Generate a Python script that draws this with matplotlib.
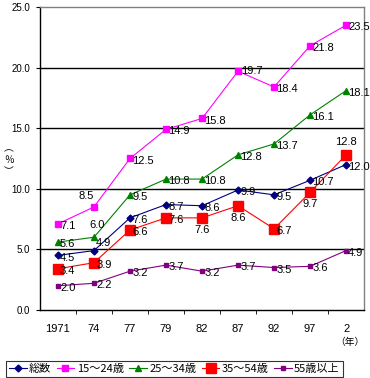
import matplotlib
matplotlib.use("Agg")
import matplotlib.pyplot as plt
from matplotlib.ticker import FixedLocator

plt.rcParams['font.family'] = ['Noto Sans CJK JP', 'DejaVu Sans']

years = ["1971", "74", "77", "79", "82", "87", "92", "97", "2"]
total = [4.5, 4.9, 7.6, 8.7, 8.6, 9.9, 9.5, 10.7, 12.0]
age15_24 = [7.1, 8.5, 12.5, 14.9, 15.8, 19.7, 18.4, 21.8, 23.5]
age25_34 = [5.6, 6.0, 9.5, 10.8, 10.8, 12.8, 13.7, 16.1, 18.1]
age35_54 = [3.4, 3.9, 6.6, 7.6, 7.6, 8.6, 6.7, 9.7, 12.8]
age55 = [2.0, 2.2, 3.2, 3.7, 3.2, 3.7, 3.5, 3.6, 4.9]
names = ["総数", "15～24歳", "25～34歳", "35～54歳", "55歳以上"]
yticks = [0.0, 5.0, 10.0, 15.0, 20.0, 25.0]

NUMFONT = ['Liberation Sans', 'DejaVu Sans']

fig = plt.figure(figsize=(3.7, 3.78), dpi=100)
ax = fig.add_axes([0.108, 0.180, 0.876, 0.8015])
x = list(range(len(years)))

series = [
    (total, '#000080', 'D', 3.5),
    (age15_24, '#FF00FF', 's', 4),
    (age25_34, '#008000', '^', 4.5),
    (age35_54, '#FF0000', 's', 7),
    (age55, '#800080', 's', 2.5),
]

# label placement overrides: (series index, point index) -> (dx, dy, ha, va)
overrides = {
    (1, 1): (0, 4, 'right', 'bottom'),
    (2, 1): (2, 5, 'center', 'bottom'),
    (0, 1): (1, 2, 'left', 'bottom'),
    (3, 4): (0, -5, 'center', 'top'),
    (3, 5): (0, -5, 'center', 'top'),
    (3, 7): (0, -5, 'center', 'top'),
    (3, 8): (0, 6, 'center', 'bottom'),
    (1, 5): (2, 0, 'left', 'center'),
}

handles = []
for si, (vals, col, mk, ms) in enumerate(series):
    h, = ax.plot(x, vals, color=col, marker=mk, markersize=ms, linewidth=0.8,
                 markeredgecolor=col, markerfacecolor=col, label=names[si], zorder=3)
    handles.append(h)
    for pi, v in enumerate(vals):
        dx, dy, ha, va = overrides.get((si, pi), (1.5, -1.5, 'left', 'center'))
        ax.annotate(f"{v:.1f}", (pi, v), xytext=(dx, dy), textcoords='offset points',
                    ha=ha, va=va, fontsize=8, color='black', zorder=4,
                    family=NUMFONT, annotation_clip=False)

ax.set_xlim(-0.5, len(years) - 0.5)
ax.set_ylim(0, 25)
ax.set_yticks(yticks)
ax.set_yticklabels([f"{t:.1f}" for t in yticks], fontsize=7, family=NUMFONT)
ax.set_xticks(x)
ax.set_xticklabels(years, fontsize=8, family=NUMFONT)
ax.tick_params(axis='x', which='major', length=0, pad=10)
ax.xaxis.set_minor_locator(FixedLocator([i + 0.5 for i in range(len(years) - 1)]))
ax.tick_params(axis='x', which='minor', length=3, direction='out', color='black')
ax.tick_params(axis='y', length=3, direction='out', pad=4)

for gy in [5, 10, 15, 20]:
    ax.axhline(gy, color='black', linewidth=1.0, zorder=1)

for s in ['left', 'bottom']:
    ax.spines[s].set_color('black')
    ax.spines[s].set_linewidth(1.0)
for s in ['top', 'right']:
    ax.spines[s].set_color('#808080')
    ax.spines[s].set_linewidth(1.0)

fig.text(350 / 370, 1 - 342 / 378, "（年）", fontsize=7, ha='center', va='center')
fig.text(9 / 370, 1 - 160 / 378, "︵\n％\n︶", fontsize=7, ha='center', va='center',
         linespacing=1.2)

leg = fig.legend(handles=handles, loc='lower left', bbox_to_anchor=(6 / 370, 1 / 378),
                 ncol=5, fontsize=8, frameon=True, fancybox=False, edgecolor='black',
                 handlelength=1.6, handletextpad=0.2, columnspacing=0.5,
                 borderpad=0.25, borderaxespad=0)
leg.get_frame().set_linewidth(0.8)

fig.savefig("out.png", dpi=100)
